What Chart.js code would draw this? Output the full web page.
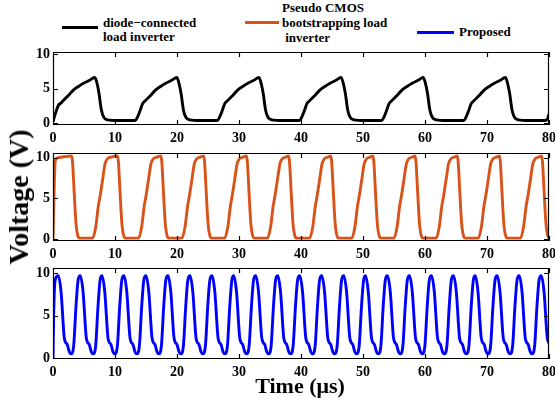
<!DOCTYPE html>
<html>
<head>
<meta charset="utf-8">
<script src="https://cdn.jsdelivr.net/npm/chart.js@4.4.1/dist/chart.umd.min.js"></script>
<style>
  body { margin: 0; background: #fff; }
  #wrap { position: relative; width: 555px; height: 404px; overflow: hidden;
          font-family: 'Liberation Serif', 'Times New Roman', serif; font-weight: bold; color: #000; }
  canvas { position: absolute; left: 0; }
  .lg { position: absolute; font-size: 13px; line-height: 14px; white-space: pre; }
  .sw { position: absolute; height: 3px; }
</style>
</head>
<body>
<div id="wrap">
  <div class="sw" style="left:62px;top:26px;width:36px;background:#000"></div>
  <div class="lg" style="left:103px;top:16px">diode−connected<br>load inverter</div>
  <div class="sw" style="left:245px;top:21px;width:34px;background:#D95319"></div>
  <div class="lg" style="left:282px;top:0px;line-height:15px">Pseudo CMOS<br>bootstrapping load<br> inverter</div>
  <div class="sw" style="left:417px;top:31px;width:37px;background:#0000FF"></div>
  <div class="lg" style="left:459px;top:25px">Proposed</div>

  <canvas id="c1" width="555" height="101" style="top:44px"></canvas>
  <canvas id="c2" width="555" height="116" style="top:145px"></canvas>
  <canvas id="c3" width="555" height="119" style="top:260px"></canvas>

  <div style="position:absolute;left:19px;top:197px;transform:translate(-50%,-50%) rotate(-90deg);font-size:28px;white-space:nowrap">Voltage (V)</div>
  <div style="position:absolute;left:300px;top:386px;transform:translate(-50%,-50%);font-size:22px;white-space:nowrap">Time (μs)</div>
</div>
<script>
// tick labels
const xTicks = [0, 10, 20, 30, 40, 50, 60, 70, 80];
const yTicks = [0, 5, 10];

// diode-connected load inverter: [time us, volt]
const diodeLoad = [
  [0,0.2],[0.4,1.4],[0.9,2.6],[1.3,2.9],[1.7,3.3],[2.4,3.9],[3.2,4.7],[4.1,5.3],[5.0,5.8],[5.9,6.2],[6.7,6.6],[7.0,6.1],[7.4,4.4],[7.8,1.9],[8.2,0.8],[8.8,0.45],[10.5,0.35],
  [13.25,0.35],[13.6,0.8],[14.05,1.8],[14.45,2.8],[14.85,3.2],[15.65,3.9],[16.45,4.7],[17.35,5.3],[18.25,5.8],[19.15,6.2],[19.95,6.6],[20.25,6.0],[20.65,4.3],[21.05,1.8],[21.45,0.8],[22.05,0.45],[23.75,0.35],
  [26.5,0.35],[26.85,0.8],[27.3,1.8],[27.7,2.8],[28.1,3.2],[28.9,3.9],[29.7,4.7],[30.6,5.3],[31.5,5.8],[32.4,6.2],[33.2,6.6],[33.5,6.0],[33.9,4.3],[34.3,1.8],[34.7,0.8],[35.3,0.45],[37.0,0.35],
  [39.75,0.35],[40.1,0.8],[40.55,1.8],[40.95,2.8],[41.35,3.2],[42.15,3.9],[42.95,4.7],[43.85,5.3],[44.75,5.8],[45.65,6.2],[46.45,6.6],[46.75,6.0],[47.15,4.3],[47.55,1.8],[47.95,0.8],[48.55,0.45],[50.25,0.35],
  [53.0,0.35],[53.35,0.8],[53.8,1.8],[54.2,2.8],[54.6,3.2],[55.4,3.9],[56.2,4.7],[57.1,5.3],[58.0,5.8],[58.9,6.2],[59.7,6.6],[60.0,6.0],[60.4,4.3],[60.8,1.8],[61.2,0.8],[61.8,0.45],[63.5,0.35],
  [66.25,0.35],[66.6,0.8],[67.05,1.8],[67.45,2.8],[67.85,3.2],[68.65,3.9],[69.45,4.7],[70.35,5.3],[71.25,5.8],[72.15,6.2],[72.95,6.6],[73.25,6.0],[73.65,4.3],[74.05,1.8],[74.45,0.8],[75.05,0.45],[76.75,0.35],
  [79.5,0.35],[79.85,0.8],[80,1.3]
];

// pseudo CMOS bootstrapping load inverter
const pseudoCmos = [
  [0,0],[0.15,5.0],[0.35,9.6],[0.7,10.0],[1.5,10.1],[2.5,10.2],
  [3.0,10.25],[3.15,9.5],[3.4,6.0],[3.7,2.0],[4.0,0.4],[4.3,0.1],[6.4,0.1],[6.9,1.5],[7.3,4.0],[7.6,5.3],[8.0,7.3],[8.4,9.3],[8.8,9.9],[9.4,10.1],
  [10.4,10.25],[10.55,9.5],[10.8,6.0],[11.1,2.0],[11.4,0.4],[11.7,0.1],[13.8,0.1],[14.3,1.5],[14.7,4.0],[15.0,5.3],[15.4,7.3],[15.8,9.3],[16.2,9.9],[16.8,10.1],
  [17.4,10.25],[17.55,9.5],[17.8,6.0],[18.1,2.0],[18.4,0.4],[18.7,0.1],[20.8,0.1],[21.3,1.5],[21.7,4.0],[22.0,5.3],[22.4,7.3],[22.8,9.3],[23.2,9.9],[23.8,10.1],
  [24.3,10.25],[24.45,9.5],[24.7,6.0],[25.0,2.0],[25.3,0.4],[25.6,0.1],[27.7,0.1],[28.2,1.5],[28.6,4.0],[28.9,5.3],[29.3,7.3],[29.7,9.3],[30.1,9.9],[30.7,10.1],
  [31.2,10.25],[31.35,9.5],[31.6,6.0],[31.9,2.0],[32.2,0.4],[32.5,0.1],[34.6,0.1],[35.1,1.5],[35.5,4.0],[35.8,5.3],[36.2,7.3],[36.6,9.3],[37.0,9.9],[37.6,10.1],
  [38.0,10.25],[38.15,9.5],[38.4,6.0],[38.7,2.0],[39.0,0.4],[39.3,0.1],[41.4,0.1],[41.9,1.5],[42.3,4.0],[42.6,5.3],[43.0,7.3],[43.4,9.3],[43.8,9.9],[44.4,10.1],
  [44.8,10.25],[44.95,9.5],[45.2,6.0],[45.5,2.0],[45.8,0.4],[46.1,0.1],[48.2,0.1],[48.7,1.5],[49.1,4.0],[49.4,5.3],[49.8,7.3],[50.2,9.3],[50.6,9.9],[51.2,10.1],
  [51.6,10.25],[51.75,9.5],[52.0,6.0],[52.3,2.0],[52.6,0.4],[52.9,0.1],[55.0,0.1],[55.5,1.5],[55.9,4.0],[56.2,5.3],[56.6,7.3],[57.0,9.3],[57.4,9.9],[58.0,10.1],
  [58.4,10.25],[58.55,9.5],[58.8,6.0],[59.1,2.0],[59.4,0.4],[59.7,0.1],[61.8,0.1],[62.3,1.5],[62.7,4.0],[63.0,5.3],[63.4,7.3],[63.8,9.3],[64.2,9.9],[64.8,10.1],
  [65.2,10.25],[65.35,9.5],[65.6,6.0],[65.9,2.0],[66.2,0.4],[66.5,0.1],[68.6,0.1],[69.1,1.5],[69.5,4.0],[69.8,5.3],[70.2,7.3],[70.6,9.3],[71.0,9.9],[71.6,10.1],
  [72.0,10.25],[72.15,9.5],[72.4,6.0],[72.7,2.0],[73.0,0.4],[73.3,0.1],[75.4,0.1],[75.9,1.5],[76.3,4.0],[76.6,5.3],[77.0,7.3],[77.4,9.3],[77.8,9.9],[78.4,10.1],
  [78.8,10.25],[78.95,9.5],[79.2,6.0],[79.5,2.0],[79.8,0.4],[80,0.2]
];

// proposed inverter
const proposed = [
  [0,0],[0.12,5.5],[0.35,9.2],
  [0.85,9.7],[1.3,7.8],[1.8,2.5],[2.0,1.9],[2.3,1.6],[2.65,0.7],[2.95,0.5],[3.35,1.6],[3.7,6.0],[4.05,9.2],
  [4.4,9.7],[4.85,7.8],[5.35,2.5],[5.55,1.9],[5.85,1.6],[6.2,0.7],[6.5,0.5],[6.9,1.6],[7.25,6.0],[7.6,9.2],
  [7.9,9.7],[8.35,7.8],[8.85,2.5],[9.05,1.9],[9.35,1.6],[9.7,0.7],[10.0,0.5],[10.4,1.6],[10.75,6.0],[11.1,9.2],
  [11.45,9.7],[11.9,7.8],[12.4,2.5],[12.6,1.9],[12.9,1.6],[13.25,0.7],[13.55,0.5],[13.95,1.6],[14.3,6.0],[14.65,9.2],
  [15.0,9.7],[15.45,7.8],[15.95,2.5],[16.15,1.9],[16.45,1.6],[16.8,0.7],[17.1,0.5],[17.5,1.6],[17.85,6.0],[18.2,9.2],
  [18.55,9.7],[19.0,7.8],[19.5,2.5],[19.7,1.9],[20.0,1.6],[20.35,0.7],[20.65,0.5],[21.05,1.6],[21.4,6.0],[21.75,9.2],
  [22.1,9.7],[22.55,7.8],[23.05,2.5],[23.25,1.9],[23.55,1.6],[23.9,0.7],[24.2,0.5],[24.6,1.6],[24.95,6.0],[25.3,9.2],
  [25.65,9.7],[26.1,7.8],[26.6,2.5],[26.8,1.9],[27.1,1.6],[27.45,0.7],[27.75,0.5],[28.15,1.6],[28.5,6.0],[28.85,9.2],
  [29.15,9.7],[29.6,7.8],[30.1,2.5],[30.3,1.9],[30.6,1.6],[30.95,0.7],[31.25,0.5],[31.65,1.6],[32.0,6.0],[32.35,9.2],
  [32.7,9.7],[33.15,7.8],[33.65,2.5],[33.85,1.9],[34.15,1.6],[34.5,0.7],[34.8,0.5],[35.2,1.6],[35.55,6.0],[35.9,9.2],
  [36.25,9.7],[36.7,7.8],[37.2,2.5],[37.4,1.9],[37.7,1.6],[38.05,0.7],[38.35,0.5],[38.75,1.6],[39.1,6.0],[39.45,9.2],
  [39.8,9.7],[40.25,7.8],[40.75,2.5],[40.95,1.9],[41.25,1.6],[41.6,0.7],[41.9,0.5],[42.3,1.6],[42.65,6.0],[43.0,9.2],
  [43.35,9.7],[43.8,7.8],[44.3,2.5],[44.5,1.9],[44.8,1.6],[45.15,0.7],[45.45,0.5],[45.85,1.6],[46.2,6.0],[46.55,9.2],
  [46.9,9.7],[47.35,7.8],[47.85,2.5],[48.05,1.9],[48.35,1.6],[48.7,0.7],[49.0,0.5],[49.4,1.6],[49.75,6.0],[50.1,9.2],
  [50.4,9.7],[50.85,7.8],[51.35,2.5],[51.55,1.9],[51.85,1.6],[52.2,0.7],[52.5,0.5],[52.9,1.6],[53.25,6.0],[53.6,9.2],
  [53.95,9.7],[54.4,7.8],[54.9,2.5],[55.1,1.9],[55.4,1.6],[55.75,0.7],[56.05,0.5],[56.45,1.6],[56.8,6.0],[57.15,9.2],
  [57.5,9.7],[57.95,7.8],[58.45,2.5],[58.65,1.9],[58.95,1.6],[59.3,0.7],[59.6,0.5],[60.0,1.6],[60.35,6.0],[60.7,9.2],
  [61.05,9.7],[61.5,7.8],[62.0,2.5],[62.2,1.9],[62.5,1.6],[62.85,0.7],[63.15,0.5],[63.55,1.6],[63.9,6.0],[64.25,9.2],
  [64.6,9.7],[65.05,7.8],[65.55,2.5],[65.75,1.9],[66.05,1.6],[66.4,0.7],[66.7,0.5],[67.1,1.6],[67.45,6.0],[67.8,9.2],
  [68.1,9.7],[68.55,7.8],[69.05,2.5],[69.25,1.9],[69.55,1.6],[69.9,0.7],[70.2,0.5],[70.6,1.6],[70.95,6.0],[71.3,9.2],
  [71.65,9.7],[72.1,7.8],[72.6,2.5],[72.8,1.9],[73.1,1.6],[73.45,0.7],[73.75,0.5],[74.15,1.6],[74.5,6.0],[74.85,9.2],
  [75.2,9.7],[75.65,7.8],[76.15,2.5],[76.35,1.9],[76.65,1.6],[77.0,0.7],[77.3,0.5],[77.7,1.6],[78.05,6.0],[78.4,9.2],
  [78.75,9.7],[79.2,7.8],[79.7,2.5],[79.9,1.9],[80,1.8]
];

const tickFont = { family: 'Liberation Serif', weight: 'bold', size: 14 };

// matlab style box with inward ticks
const boxPlugin = {
  id: 'box',
  afterDatasetsDraw(chart) {
    const { ctx, chartArea: a, scales: { x, y } } = chart;
    ctx.save();
    ctx.strokeStyle = '#000';
    ctx.lineWidth = 1.2;
    ctx.beginPath();
    ctx.rect(Math.round(a.left) + 0.5, Math.round(a.top) + 0.5,
             Math.round(a.right - a.left) - 1, Math.round(a.bottom - a.top) - 1);
    xTicks.forEach(v => {
      const px = Math.round(x.getPixelForValue(v)) + 0.5;
      ctx.moveTo(px, a.bottom); ctx.lineTo(px, a.bottom - 5);
      ctx.moveTo(px, a.top); ctx.lineTo(px, a.top + 5);
    });
    yTicks.forEach(v => {
      const py = Math.round(y.getPixelForValue(v)) + 0.5;
      ctx.moveTo(a.left, py); ctx.lineTo(a.left + 5, py);
      ctx.moveTo(a.right, py); ctx.lineTo(a.right - 5, py);
    });
    ctx.stroke();
    ctx.restore();
  }
};

function panel(id, pts, color, yMin, yMax) {
  return new Chart(document.getElementById(id), {
    type: 'line',
    data: {
      datasets: [{
        data: pts.map(p => ({ x: p[0], y: p[1] })),
        borderColor: color,
        borderWidth: 2.9,
        pointRadius: 0,
        cubicInterpolationMode: 'monotone',
        fill: false
      }]
    },
    options: {
      responsive: false,
      animation: false,
      layout: { padding: { top: 8, right: 6, left: 0, bottom: 0 } },
      plugins: { legend: { display: false }, tooltip: { enabled: false } },
      scales: {
        x: {
          type: 'linear', min: 0, max: 80,
          grid: { display: false, drawTicks: false },
          border: { display: false },
          ticks: { font: tickFont, color: '#000', padding: 5, maxRotation: 0, callback: v => String(v) },
          afterBuildTicks: s => { s.ticks = xTicks.map(v => ({ value: v })); },
          afterFit: s => { s.height = 20; s.paddingLeft = 0; s.paddingRight = 0; }
        },
        y: {
          type: 'linear', min: yMin, max: yMax,
          grid: { display: false, drawTicks: false },
          border: { display: false },
          ticks: { font: tickFont, color: '#000', padding: 3, callback: v => String(v) },
          afterBuildTicks: s => { s.ticks = yTicks.map(v => ({ value: v })); },
          afterFit: s => { s.width = 53; s.paddingTop = 0; s.paddingBottom = 0; }
        }
      }
    },
    plugins: [boxPlugin]
  });
}

panel('c1', diodeLoad, '#000000', -0.3, 10.3);
panel('c2', pseudoCmos, '#D95319', -0.25, 10.6);
panel('c3', proposed, '#0000FF', -0.1, 10.6);
</script>
</body>
</html>
